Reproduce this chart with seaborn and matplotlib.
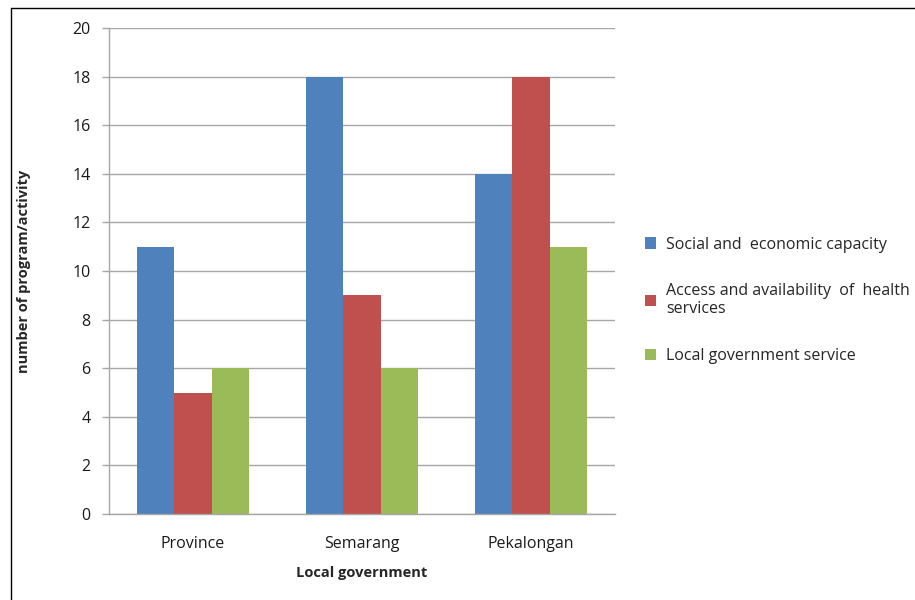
import matplotlib
matplotlib.use("Agg")
import matplotlib.pyplot as plt
import seaborn as sns
import pandas as pd
from matplotlib.lines import Line2D

# Data
regions = ["Province", "Semarang", "Pekalongan"]
series_names = [
    "Social and  economic capacity",
    "Access and availability  of  health\nservices",
    "Local government service",
]
social_economic = [11, 18, 14]
health_access = [5, 9, 18]
local_service = [6, 6, 11]
colors = ["#4F81BD", "#C0504D", "#9BBB59"]
y_ticks = list(range(0, 21, 2))

rows = []
for name, vals in zip(series_names, [social_economic, health_access, local_service]):
    for r, v in zip(regions, vals):
        rows.append({"region": r, "series": name, "value": v})
df = pd.DataFrame(rows)

sns.set_theme(style="white")
plt.rcParams["font.family"] = ["Open Sans", "DejaVu Sans"]

fig = plt.figure(figsize=(9.15, 6), dpi=100)
ax = fig.add_axes([0.1186, 0.1433, 0.554, 0.81])

sns.barplot(data=df, x="region", y="value", hue="series", order=regions,
            hue_order=series_names, palette=colors, width=0.667,
            saturation=1, linewidth=0, ax=ax)

grid_c = "#A6A6A6"
ax.set_ylim(0, 20)
ax.set_xlim(-0.5, 2.5)
ax.set_yticks(y_ticks)
ax.yaxis.grid(True, color=grid_c, linewidth=1.0)
ax.set_axisbelow(True)
for s in ["top", "right"]:
    ax.spines[s].set_visible(False)
for s in ["left", "bottom"]:
    ax.spines[s].set_color(grid_c)
    ax.spines[s].set_linewidth(1.0)
ax.tick_params(axis="y", which="both", left=True, length=5, width=1.0,
               color=grid_c, labelsize=11.5, pad=8, labelcolor="#1a1a1a")
ax.tick_params(axis="x", bottom=False, labelsize=11.5, pad=10, labelcolor="#1a1a1a")

ax.set_xlabel("Local government", fontsize=10.5, fontweight="bold", labelpad=10)
ax.set_ylabel("number of program/activity", fontsize=10.5, fontweight="bold", labelpad=30)

handles, labels = ax.get_legend_handles_labels()
ax.legend(handles, labels, loc="center left", bbox_to_anchor=(1.03, 0.44),
          frameon=False, fontsize=11.5, handlelength=0.7, handleheight=0.7,
          handletextpad=0.6, labelspacing=1.9)

# Outer frame lines on left and top
fig.add_artist(Line2D([10.5 / 915, 10.5 / 915], [0, 1 - 8 / 600],
                      transform=fig.transFigure, color="black", linewidth=1.0))
fig.add_artist(Line2D([10.5 / 915, 1], [1 - 8 / 600, 1 - 8 / 600],
                      transform=fig.transFigure, color="black", linewidth=1.0))

fig.savefig("out.png", dpi=100, facecolor="white")
